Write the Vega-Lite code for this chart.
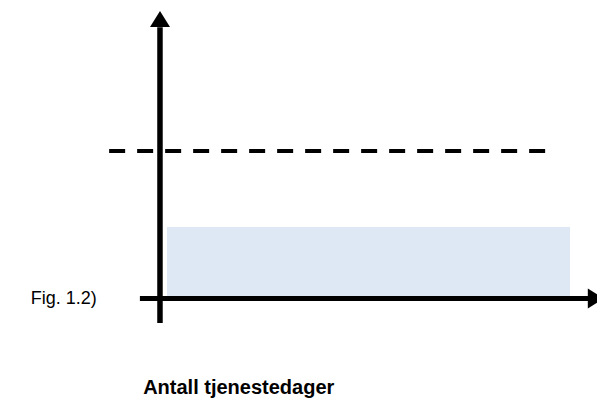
{
  "$schema": "https://vega.github.io/schema/vega-lite/v6.json",
  "width": 597,
  "height": 403,
  "autosize": {"type": "none"},
  "padding": 0,
  "background": "white",
  "config": {"view": {"stroke": null}},
  "datasets": {
    "band": [{"name": "kompensasjon", "start": 1.7, "end": 100, "low": 0, "high": 48.5}],
    "level": [{"name": "niva", "start": -12.4, "end": 94.6, "value": 100}],
    "yaxis": [{"x": 0, "y": -16.6}, {"x": 0, "y": 184}],
    "xaxis": [{"x": -4.9, "y": 0}, {"x": 104.4, "y": 0}],
    "yarrow": [{"x": 0, "y": 189.5}],
    "xarrow": [{"x": 106.3, "y": 0}],
    "figlabel": [{"label": "Fig. 1.2)", "x": -31.5, "y": -0.3}],
    "xtitle": [{"label": "Antall tjenestedager", "x": -4.1, "y": -64.7}]
  },
  "layer": [
    {
      "data": {"name": "band"},
      "mark": {"type": "rect", "color": "#dde8f4"},
      "encoding": {
        "x": {"field": "start", "type": "quantitative", "scale": {"domain": [-39.02, 106.59], "nice": false, "zero": false}, "axis": null},
        "x2": {"field": "end"},
        "y": {"field": "low", "type": "quantitative", "scale": {"domain": [-70.85, 202.4], "nice": false, "zero": false}, "axis": null},
        "y2": {"field": "high"}
      }
    },
    {
      "data": {"name": "level"},
      "mark": {"type": "rule", "color": "black", "strokeWidth": 4, "strokeDash": [16, 12]},
      "encoding": {
        "x": {"field": "start", "type": "quantitative"},
        "x2": {"field": "end"},
        "y": {"field": "value", "type": "quantitative"}
      }
    },
    {
      "data": {"name": "yaxis"},
      "mark": {"type": "line", "color": "black", "strokeWidth": 5.5, "strokeCap": "butt"},
      "encoding": {
        "x": {"field": "x", "type": "quantitative"},
        "y": {"field": "y", "type": "quantitative"},
        "order": {"field": "y"}
      }
    },
    {
      "data": {"name": "xaxis"},
      "mark": {"type": "line", "color": "black", "strokeWidth": 5, "strokeCap": "butt"},
      "encoding": {
        "x": {"field": "x", "type": "quantitative"},
        "y": {"field": "y", "type": "quantitative"},
        "order": {"field": "x"}
      }
    },
    {
      "data": {"name": "yarrow"},
      "mark": {"type": "point", "shape": "M0,-0.8L1,0.8L-1,0.8Z", "size": 400, "filled": true, "color": "black", "opacity": 1},
      "encoding": {
        "x": {"field": "x", "type": "quantitative"},
        "y": {"field": "y", "type": "quantitative"}
      }
    },
    {
      "data": {"name": "xarrow"},
      "mark": {"type": "point", "shape": "M0.8,0L-0.8,-1L-0.8,1Z", "size": 400, "filled": true, "color": "black", "opacity": 1},
      "encoding": {
        "x": {"field": "x", "type": "quantitative"},
        "y": {"field": "y", "type": "quantitative"}
      }
    },
    {
      "data": {"name": "figlabel"},
      "mark": {"type": "text", "align": "left", "baseline": "middle", "font": "Liberation Sans", "fontSize": 18, "color": "black"},
      "encoding": {
        "x": {"field": "x", "type": "quantitative"},
        "y": {"field": "y", "type": "quantitative"},
        "text": {"field": "label"}
      }
    },
    {
      "data": {"name": "xtitle"},
      "mark": {"type": "text", "align": "left", "baseline": "alphabetic", "font": "Liberation Sans", "fontSize": 20, "fontWeight": "bold", "color": "black"},
      "encoding": {
        "x": {"field": "x", "type": "quantitative"},
        "y": {"field": "y", "type": "quantitative"},
        "text": {"field": "label"}
      }
    }
  ]
}
